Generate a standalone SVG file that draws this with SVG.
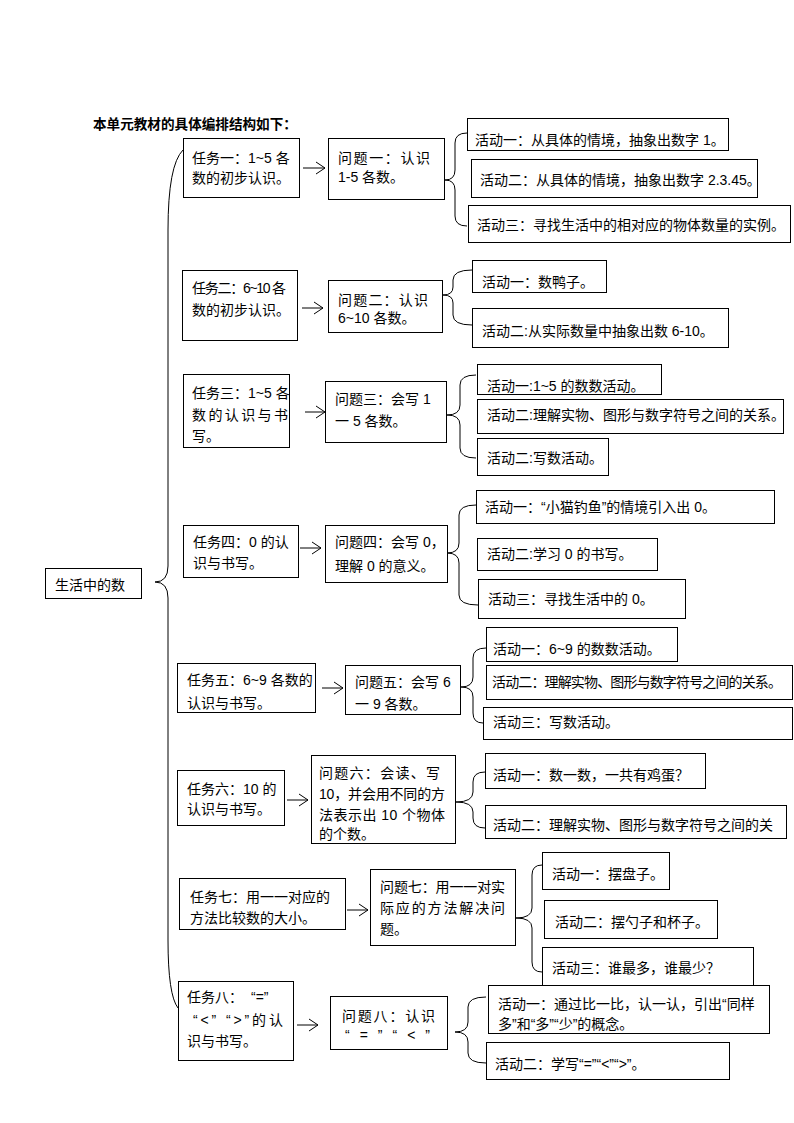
<svg xmlns="http://www.w3.org/2000/svg" width="794" height="1123" viewBox="0 0 794 1123">
<style>
.b{fill:#fff;stroke:#000;stroke-width:1}
.t{font-family:"Liberation Sans","Noto Sans CJK SC",sans-serif;font-size:14px;fill:#000}
.h{font-family:"Liberation Sans","Noto Sans CJK SC",sans-serif;font-size:13.6px;font-weight:bold;fill:#000}
.c{fill:none;stroke:#000;stroke-width:1}
</style>
<defs>
<marker id="ar" markerWidth="12" markerHeight="14" refX="10" refY="7" orient="auto" markerUnits="userSpaceOnUse">
<path d="M1,1 L10,7 L1,13" fill="none" stroke="#000" stroke-width="1"/>
</marker>
</defs>
<rect width="794" height="1123" fill="#fff"/>
<text class="h" x="93" y="129">本单元教材的具体编排结构如下：</text>

<g id="connectors">
<path class="c" d="M183,150 Q168,165 168,230 L168,566 Q168,582 155,582 Q168,582 168,598 L168,940 Q168,995 178,1008"/>
<line class="c" x1="303" y1="168" x2="325" y2="168" marker-end="url(#ar)"/>
<line class="c" x1="302" y1="308" x2="323" y2="308" marker-end="url(#ar)"/>
<line class="c" x1="305" y1="412" x2="325" y2="412" marker-end="url(#ar)"/>
<line class="c" x1="300" y1="548" x2="321" y2="548" marker-end="url(#ar)"/>
<line class="c" x1="322" y1="688" x2="343" y2="688" marker-end="url(#ar)"/>
<line class="c" x1="287" y1="800" x2="308" y2="800" marker-end="url(#ar)"/>
<line class="c" x1="347" y1="910" x2="368" y2="910" marker-end="url(#ar)"/>
<line class="c" x1="297" y1="1025" x2="318" y2="1025" marker-end="url(#ar)"/>
<path class="c" d="M467,133 Q455,133 455,143 L455,170 Q455,180 445,180 Q455,180 455,190 L455,216 Q455,226 467,226"/>
<path class="c" d="M472,270 Q453,270 453,280 L453,287 Q453,295 443,295 Q453,295 453,303 L453,315 Q453,325 472,325"/>
<path class="c" d="M476,375 Q460,375 460,385 L460,405 Q460,415 447,415 Q460,415 460,425 L460,448 Q460,458 476,458"/>
<path class="c" d="M476,505 Q459,505 459,515 L459,543 Q459,553 447,553 Q459,553 459,563 L459,595 Q459,605 478,605"/>
<path class="c" d="M486,648 Q473,648 473,658 L473,677 Q473,687 461,687 Q473,687 473,697 L473,713 Q473,723 483,723"/>
<path class="c" d="M485,772 Q473,772 473,782 L473,792 Q473,802 456,802 Q473,802 473,812 L473,818 Q473,828 485,828"/>
<path class="c" d="M542,865 Q532,865 532,875 L532,908 Q532,918 516,918 Q532,918 532,928 L532,962 Q532,972 542,972"/>
<path class="c" d="M486,997 Q468,997 468,1007 L468,1022 Q468,1032 455,1032 Q468,1032 468,1042 L468,1053 Q468,1063 486,1063"/>
</g>

<g id="root"><rect class="b" x="45.5" y="568.5" width="96" height="30"/><text class="t" x="55" y="590">生活中的数</text></g>

<g id="task1"><rect class="b" x="183.5" y="138.5" width="116" height="59"/><text class="t" x="192" y="163">任务一：1~5 各</text><text class="t" x="192" y="183">数的初步认识。</text></g>
<g id="q1"><rect class="b" x="328.5" y="138.5" width="116" height="61"/><text class="t" x="338" y="163" textLength="92">问题一：认识</text><text class="t" x="338" y="182">1-5 各数。</text></g>
<g id="a1-1"><rect class="b" x="467.5" y="118.5" width="261" height="32"/><text class="t" x="475" y="145">活动一：从具体的情境，抽象出数字 1。</text></g>
<g id="a1-2"><rect class="b" x="471.5" y="159.5" width="286" height="38"/><text class="t" x="480" y="185">活动二：从具体的情境，抽象出数字 2.3.45。</text></g>
<g id="a1-3"><rect class="b" x="468.5" y="205.5" width="322" height="37"/><text class="t" x="477" y="230">活动三：寻找生活中的相对应的物体数量的实例。</text></g>

<g id="task2"><rect class="b" x="182.5" y="270.5" width="115" height="70"/><text class="t" x="192" y="293" textLength="94">任务二：6~10 各</text><text class="t" x="192" y="315">数的初步认识。</text></g>
<g id="q2"><rect class="b" x="328.5" y="280.5" width="114" height="52"/><text class="t" x="338" y="305" textLength="90">问题二：认识</text><text class="t" x="338" y="323">6~10 各数。</text></g>
<g id="a2-1"><rect class="b" x="472.5" y="260.5" width="134" height="32"/><text class="t" x="482" y="287">活动一：数鸭子。</text></g>
<g id="a2-2"><rect class="b" x="472.5" y="308.5" width="256" height="39"/><text class="t" x="482" y="336">活动二:从实际数量中抽象出数 6-10。</text></g>

<g id="task3"><rect class="b" x="183.5" y="374.5" width="106" height="73"/><text class="t" x="192" y="398">任务三：1~5 各</text><text class="t" x="192" y="420" textLength="96">数的认识与书</text><text class="t" x="192" y="441">写。</text></g>
<g id="q3"><rect class="b" x="325.5" y="381.5" width="121" height="61"/><text class="t" x="335" y="404">问题三：会写 1</text><text class="t" x="335" y="426">一 5 各数。</text></g>
<g id="a3-1"><rect class="b" x="477.5" y="364.5" width="184" height="30"/><text class="t" x="487" y="391">活动一:1~5 的数数活动。</text></g>
<g id="a3-2"><rect class="b" x="477.5" y="399.5" width="306" height="34"/><text class="t" x="487" y="420">活动二:理解实物、图形与数字符号之间的关系。</text></g>
<g id="a3-3"><rect class="b" x="477.5" y="438.5" width="131" height="37"/><text class="t" x="487" y="463">活动二:写数活动。</text></g>

<g id="task4"><rect class="b" x="183.5" y="525.5" width="115" height="52"/><text class="t" x="193" y="547">任务四：0 的认</text><text class="t" x="193" y="568">识与书写。</text></g>
<g id="q4"><rect class="b" x="325.5" y="525.5" width="122" height="57"/><text class="t" x="335" y="547">问题四：会写 0，</text><text class="t" x="335" y="571">理解 0 的意义。</text></g>
<g id="a4-1"><rect class="b" x="476.5" y="490.5" width="298" height="33"/><text class="t" x="485" y="512">活动一：“小猫钓鱼”的情境引入出 0。</text></g>
<g id="a4-2"><rect class="b" x="477.5" y="538.5" width="180" height="32"/><text class="t" x="487" y="559">活动二:学习 0 的书写。</text></g>
<g id="a4-3"><rect class="b" x="478.5" y="579.5" width="207" height="39"/><text class="t" x="488" y="604">活动三：寻找生活中的 0。</text></g>

<g id="task5"><rect class="b" x="177.5" y="663.5" width="138" height="49"/><text class="t" x="187" y="685">任务五：6~9 各数的</text><text class="t" x="187" y="708">认识与书写。</text></g>
<g id="q5"><rect class="b" x="345.5" y="665.5" width="115" height="49"/><text class="t" x="355" y="687">问题五：会写 6</text><text class="t" x="355" y="709">一 9 各数。</text></g>
<g id="a5-1"><rect class="b" x="486.5" y="627.5" width="191" height="34"/><text class="t" x="493" y="654">活动一：6~9 的数数活动。</text></g>
<g id="a5-2"><rect class="b" x="486.5" y="665.5" width="306" height="34"/><text class="t" x="492" y="687" textLength="290">活动二：理解实物、图形与数字符号之间的关系。</text></g>
<g id="a5-3"><rect class="b" x="483.5" y="707.5" width="309" height="32"/><text class="t" x="493" y="727">活动三：写数活动。</text></g>

<g id="task6"><rect class="b" x="177.5" y="770.5" width="107" height="55"/><text class="t" x="187" y="794">任务六：10 的</text><text class="t" x="187" y="814">认识与书写。</text></g>
<g id="q6"><rect class="b" x="311.5" y="755.5" width="144" height="88"/><text class="t" x="319" y="778" textLength="121">问题六：会读、写</text><text class="t" x="319" y="799" textLength="126">10，并会用不同的方</text><text class="t" x="319" y="820" textLength="126">法表示出 10 个物体</text><text class="t" x="319" y="839">的个数。</text></g>
<g id="a6-1"><rect class="b" x="485.5" y="753.5" width="220" height="35"/><text class="t" x="493" y="780">活动一：数一数，一共有鸡蛋？</text></g>
<g id="a6-2"><rect class="b" x="485.5" y="805.5" width="301" height="33"/><text class="t" x="493" y="830">活动二：理解实物、图形与数字符号之间的关</text></g>

<g id="task7"><rect class="b" x="179.5" y="878.5" width="166" height="51"/><text class="t" x="190" y="902">任务七：用一一对应的</text><text class="t" x="190" y="923">方法比较数的大小。</text></g>
<g id="q7"><rect class="b" x="370.5" y="869.5" width="145" height="76"/><text class="t" x="380" y="892" textLength="125">问题七：用一一对实</text><text class="t" x="380" y="913" textLength="125">际应的方法解决问</text><text class="t" x="380" y="934">题。</text></g>
<g id="a7-1"><rect class="b" x="542.5" y="852.5" width="127" height="37"/><text class="t" x="552" y="879">活动一：摆盘子。</text></g>
<g id="a7-2"><rect class="b" x="544.5" y="900.5" width="173" height="38"/><text class="t" x="555" y="927">活动二：摆勺子和杯子。</text></g>
<g id="a7-3"><rect class="b" x="542.5" y="947.5" width="211" height="45"/><text class="t" x="552" y="973">活动三：谁最多，谁最少？</text></g>

<g id="task8"><rect class="b" x="178.5" y="981.5" width="115" height="79"/><text class="t" x="187" y="1002">任务八：</text><text class="t" x="251" y="1002">“=”</text><text class="t" x="193" y="1025" textLength="90">“&lt;” “&gt;”的认</text><text class="t" x="187" y="1046">识与书写。</text></g>
<g id="q8"><rect class="b" x="330.5" y="996.5" width="117" height="53"/><text class="t" x="342" y="1021" textLength="93">问题八：认识</text><text class="t" x="345" y="1040" textLength="85">“ = ” “ &lt; ”</text></g>
<g id="a8-1"><rect class="b" x="488.5" y="985.5" width="281" height="48"/><text class="t" x="498" y="1009">活动一：通过比一比，认一认，引出“同样</text><text class="t" x="498" y="1029">多”和“多”“少”的概念。</text></g>
<g id="a8-2"><rect class="b" x="486.5" y="1042.5" width="243" height="37"/><text class="t" x="495" y="1069">活动二：学写“=”“&lt;”“&gt;”。</text></g>
</svg>
